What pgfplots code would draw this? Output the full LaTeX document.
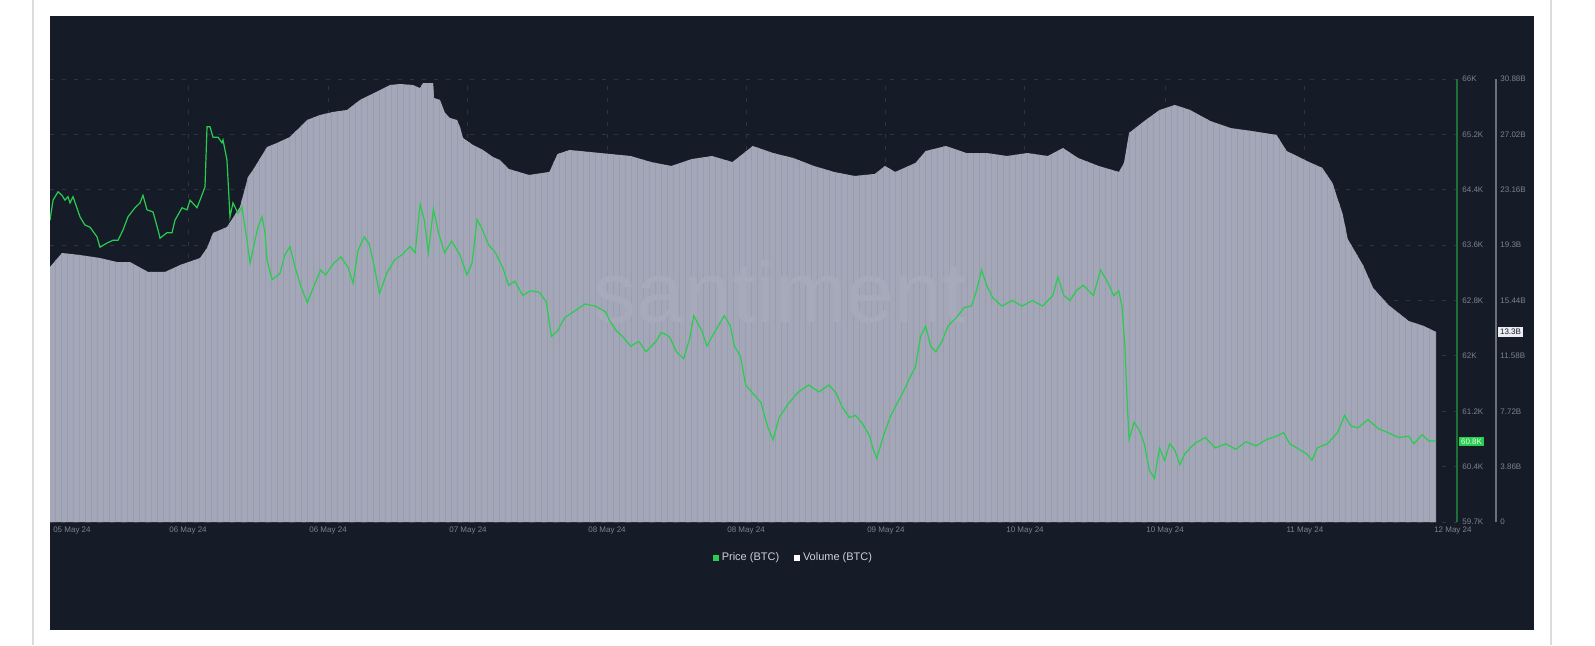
\documentclass[border=0pt]{standalone}
\usepackage{fontspec}
\setmainfont{Liberation Sans}
\usepackage{pgfplots}
\pgfplotsset{compat=1.18}
\usetikzlibrary{patterns}

\definecolor{panel}{RGB}{22,27,40}
\definecolor{volfill}{RGB}{164,167,184}
\definecolor{volstripe}{RGB}{153,156,174}
\definecolor{priceline}{RGB}{40,205,80}
\definecolor{priceaxis}{RGB}{30,112,56}
\definecolor{volaxis}{RGB}{108,113,128}
\definecolor{ticktext}{RGB}{125,130,146}
\definecolor{gridc}{RGB}{46,52,68}
\definecolor{legtext}{RGB}{205,208,216}
\definecolor{cardline}{RGB}{220,220,220}
\definecolor{watermark}{RGB}{167,170,187}

\pgfplotsset{
  frame/.style={scale only axis, height=221.5pt, at={(25pt,61.5pt)}, anchor=south west, xmin=49},
  ticks small/.style={major tick length=0pt,
    tick label style={font=\fontsize{4}{5}\selectfont, text=ticktext}},
}

\begin{document}
\begin{tikzpicture}
\path[use as bounding box, fill=white] (0,0) rectangle (797.5pt,322.5pt);
\fill[cardline] (16pt,0) rectangle (17pt,322.5pt);
\fill[cardline] (775pt,0) rectangle (776pt,322.5pt);
\fill[panel] (25pt,7.5pt) rectangle (767pt,314.5pt);

% price axis: grid, ticks, labels
\begin{axis}[frame, ticks small, width=703.5pt, xmax=1432.5, ymin=59.6, ymax=66,
  axis y line*=right, axis x line*=bottom,
  x axis line style={draw=none},
  y axis line style={draw=priceaxis, line width=1pt},
  ytick={59.6,60.4,61.2,62,62.8,63.6,64.4,65.2,66},
  yticklabels={59.7K,60.4K,61.2K,62K,62.8K,63.6K,64.4K,65.2K,66K},
  xtick={184.7,322.4,460,596.7,733.4,871,1007.7,1145.4,1283},
  xticklabels={06 May 24,06 May 24,07 May 24,08 May 24,08 May 24,09 May 24,10 May 24,10 May 24,11 May 24},
  extra x ticks={70.6,1428.5},
  extra x tick labels={05 May 24,12 May 24},
  extra x tick style={grid=none},
  xmajorgrids, ymajorgrids,
  grid style={gridc, line width=0.5pt, dash pattern=on 2pt off 4pt},
  yticklabel style={anchor=west, inner sep=0pt, xshift=2.5pt},
  xticklabel style={anchor=north, inner sep=0pt, yshift=-2.5pt},
]
\end{axis}

% volume axis
\begin{axis}[frame, ticks small, width=723pt, xmax=1470.8, ymin=0, ymax=30.88,
  axis y line*=right, axis x line=none,
  y axis line style={draw=volaxis, line width=1.2pt},
  ytick={0,3.86,7.72,11.58,15.44,19.3,23.16,27.02,30.88},
  yticklabels={0,3.86B,7.72B,11.58B,15.44B,19.3B,23.16B,27.02B,30.88B},
  yticklabel style={anchor=west, inner sep=0pt, xshift=2pt},
]
\addplot[draw=none, fill=volfill, postaction={pattern=vertical lines, pattern color=volstripe}] coordinates {
(49,17.78) (60.8,18.75) (78.5,18.61) (98.2,18.40) (114.9,18.12) (127.7,18.12) (145.4,17.43) (162.1,17.43)
(176.8,17.91) (196.5,18.40) (203.4,19.10) (209.3,20.15) (223.0,20.56) (235.8,21.96) (243.7,24.05) (248.6,24.54)
(262.4,26.14) (272.2,26.42) (285.0,26.84) (301.7,28.02) (314.5,28.37) (327.3,28.58) (341.0,28.72) (353.8,29.42)
(373.5,30.11) (383.3,30.46) (393.2,30.53) (405.9,30.46) (412.8,30.25) (415.8,30.60) (425.6,30.60) (426.6,29.56)
(432.5,29.42) (437.4,28.51) (442.3,28.16) (449.2,28.02) (452.2,27.53) (455.1,26.77) (464.9,26.28) (474.8,25.93)
(484.6,25.44) (491.5,25.23) (500,24.61) (520,24.19) (540,24.40) (548,25.65) (560,25.93) (580,25.79)
(600,25.65) (620,25.51) (640,25.09) (660,24.82) (680,25.30) (700,25.51) (720,25.09) (740,26.21)
(760,25.72) (780,25.37) (800,24.82) (820,24.40) (840,24.12) (860,24.26) (870,24.82) (880,24.40)
(900,25.03) (910,25.86) (930,26.21) (950,25.72) (970,25.72) (990,25.51) (1010,25.72) (1030,25.51)
(1045,26.07) (1060,25.37) (1080,24.82) (1100,24.40) (1105,25.03) (1110,27.12) (1125,27.95) (1140,28.72)
(1155,29.07) (1170,28.72) (1190,27.95) (1210,27.46) (1230,27.26) (1255,26.98) (1265,25.86) (1285,25.16)
(1300,24.68) (1310,23.63) (1320,21.47) (1325,19.73) (1340,17.91) (1350,16.31) (1365,15.13) (1385,14.01)
(1400,13.66) (1412,13.24)
} \closedcycle;
\end{axis}

\node[text=watermark, font=\fontsize{43}{43}\selectfont] at (390pt,176.5pt) {santiment};

% price line and legend
\begin{axis}[frame, width=703.5pt, xmax=1432.5, ymin=59.6, ymax=66, hide axis,
  legend style={at={(0.5288,-0.0813)}, anchor=center, draw=none, fill=none,
    legend columns=2, font=\fontsize{5.5}{6.5}\selectfont, text=legtext,
    /tikz/every even column/.append style={column sep=6pt},
    nodes={inner sep=1.5pt}},
]
\addplot[priceline, line width=0.6pt, forget plot] coordinates {
(49,63.96) (52,64.25) (56.9,64.37) (60.8,64.32) (63.7,64.25) (66.7,64.30) (68.7,64.21) (71.6,64.30)
(78.5,64.01) (83.4,63.89) (88.3,63.86) (95.2,63.72) (98.2,63.57) (105,63.63) (110.9,63.67) (115.9,63.67)
(120.8,63.82) (125.7,64.01) (132.6,64.14) (137.5,64.21) (140.4,64.32) (144.4,64.11) (150.3,64.08) (155.2,63.82)
(157.2,63.70) (164,63.78) (169,63.78) (171.9,63.96) (178.8,64.14) (183.7,64.11) (186.7,64.25) (193.5,64.14)
(196.5,64.25) (201.4,64.44) (203.4,65.31) (206.3,65.31) (209.3,65.16) (214.2,65.16) (218.1,65.08) (219.1,65.12)
(223,64.83) (226,64.01) (228.9,64.21) (233.9,64.06) (237.8,64.15) (242.7,63.67) (245.7,63.34) (250.6,63.67)
(253.5,63.86) (257.5,64.01) (260.4,63.78) (262.4,63.39) (267.3,63.10) (275,63.19) (280,63.46) (285,63.58)
(290,63.28) (296,62.99) (302,62.77) (308,62.99) (315,63.24) (320,63.17) (328,63.34) (335,63.43)
(342,63.28) (347,63.05) (352,63.53) (358,63.72) (363,63.61) (368,63.28) (373,62.90) (380,63.19)
(388,63.39) (395,63.46) (403,63.58) (408,63.49) (413,64.19) (417,63.97) (421,63.49) (426,64.12)
(431,63.78) (437,63.49) (444,63.66) (452,63.46) (459,63.17) (464,63.34) (469,63.97) (474,63.83)
(480,63.61) (487,63.49) (494,63.28) (500,63.02) (506,63.08) (514,62.87) (521,62.94) (530,62.92)
(537,62.78) (542,62.28) (548,62.36) (555,62.55) (565,62.65) (575,62.75) (585,62.72) (595,62.64)
(600,62.49) (606,62.36) (612,62.28) (620,62.14) (628,62.21) (635,62.06) (645,62.21) (650,62.34)
(658,62.28) (665,62.06) (672,61.96) (678,62.25) (682,62.58) (690,62.36) (695,62.14) (700,62.28)
(706,62.43) (712,62.58) (718,62.43) (722,62.14) (728,61.99) (733,61.58) (740,61.46) (748,61.33)
(755,60.96) (760,60.79) (766,61.11) (775,61.31) (785,61.48) (795,61.58) (805,61.48) (815,61.58)
(822,61.46) (828,61.26) (835,61.11) (841,61.14) (848,61.02) (855,60.84) (858,60.67) (862,60.52)
(868,60.82) (875,61.11) (880,61.26) (888,61.48) (895,61.70) (900,61.84) (905,62.28) (910,62.43)
(915,62.14) (920,62.06) (926,62.21) (932,62.43) (940,62.55) (948,62.70) (955,62.72) (960,62.94)
(965,63.24) (970,63.02) (976,62.84) (985,62.72) (995,62.80) (1005,62.72) (1015,62.80) (1025,62.72)
(1035,62.87) (1040,63.14) (1046,62.87) (1052,62.80) (1058,62.94) (1065,63.02) (1075,62.87) (1082,63.24)
(1088,63.09) (1095,62.87) (1100,62.94) (1103,62.72) (1106,62.14) (1108,61.40) (1110,60.79) (1115,61.04)
(1120,60.93) (1125,60.73) (1130,60.35) (1135,60.23) (1140,60.67) (1145,60.49) (1150,60.73) (1155,60.64)
(1160,60.43) (1165,60.59) (1175,60.74) (1185,60.82) (1195,60.67) (1205,60.73) (1215,60.65) (1225,60.76)
(1235,60.70) (1245,60.79) (1255,60.84) (1262,60.89) (1268,60.73) (1275,60.67) (1285,60.58) (1290,60.49)
(1295,60.67) (1305,60.73) (1315,60.89) (1322,61.14) (1328,60.99) (1335,60.96) (1345,61.08) (1355,60.95)
(1365,60.89) (1375,60.82) (1385,60.84) (1390,60.73) (1398,60.86) (1405,60.77) (1412,60.77)
};
\addlegendimage{legend image code/.code={\fill[priceline] (0pt,-1.25pt) rectangle (2.5pt,1.25pt);}}
\addlegendentry{Price (BTC)}
\addlegendimage{legend image code/.code={\fill[white] (0pt,-1.25pt) rectangle (2.5pt,1.25pt);}}
\addlegendentry{Volume (BTC)}
\end{axis}

% last-value badges
\node[fill=priceline, text={rgb,255:red,225;green,255;blue,230}, font=\fontsize{4}{5}\selectfont,
  minimum width=12.5pt, minimum height=4.5pt, inner sep=0pt] at (735.75pt,101.75pt) {60.8K};
\node[fill={rgb,255:red,236;green,237;blue,242}, text=panel, font=\fontsize{4}{5}\selectfont,
  minimum width=12.5pt, minimum height=5pt, inner sep=0pt] at (755.25pt,156.5pt) {13.3B};
\end{tikzpicture}
\end{document}
